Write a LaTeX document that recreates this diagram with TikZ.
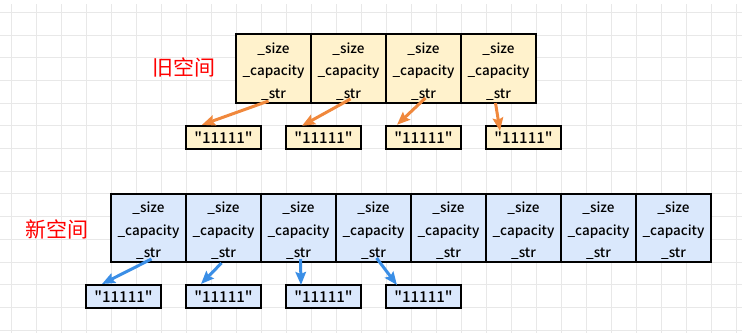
\documentclass[tikz,border=0pt]{standalone}
\usepackage{fontspec}
\setmainfont{Noto Sans CJK SC Medium}[Ligatures=TeXOff]
\newfontfamily\cjklabel{Noto Sans CJK SC}
\usetikzlibrary{arrows.meta,calc}
\definecolor{oldfill}{HTML}{FFF2CC}
\definecolor{newfill}{HTML}{DAE8FC}
\definecolor{oldarrow}{HTML}{F0883C}
\definecolor{newarrow}{HTML}{3A8EE6}
\definecolor{gridgray}{HTML}{E8E8E8}
\newcommand{\fieldtext}{\rule{0pt}{16pt}\_size\\\_capacity\\\_str}
\begin{document}
\begin{tikzpicture}[x=1pt,y=-1pt,
    gridline/.style={draw=gridgray,line width=1pt},
    cellbox/.style={draw=black,line width=2pt,minimum width=75pt,minimum height=69pt,
        inner sep=0pt,align=center,font=\fontsize{13.5}{22.5}\selectfont},
    strbox/.style={draw=black,line width=2pt,minimum width=75pt,minimum height=23pt,
        inner sep=0pt,font=\fontsize{15}{15}\selectfont},
    spacelabel/.style={text=red,font=\cjklabel\fontsize{21}{21}\selectfont},
    oldptr/.style={draw=oldarrow,line width=3pt,-{Stealth[length=13pt,width=10.5pt,inset=2pt]}},
    newptr/.style={draw=newarrow,line width=3pt,-{Stealth[length=13pt,width=10.5pt,inset=2pt]}}]
    \useasboundingbox (0,0) rectangle (742,333);
    % griglia
    \foreach \gx in {0,...,29}
        \draw[gridline] (11.7+25*\gx,4) -- ++(0,329);
    \foreach \gy in {0,...,14}
        \draw[gridline] (0,12.3+22.7*\gy) -- ++(742,0);

    % vecchio spazio
    \node[spacelabel] (oldlabel) at (184,67.5) {旧空间};
    \foreach \i in {1,...,4}{
        \node[cellbox,fill=oldfill] (old\i) at (198.5+75*\i,68.5) {\fieldtext};
        \node[strbox,fill=oldfill] (oldstr\i) at (123.5+100*\i,137.3) {"11111"};
    }
    \draw[oldptr] ($(old1.south)+(-5,-3)$) -- ($(oldstr1.north west)+(17,0)$);
    \draw[oldptr] ($(old2.south)+(2,-5)$) -- ($(oldstr2.north west)+(17,1)$);
    \draw[oldptr] ($(old3.south)+(2,-6)$) -- ($(oldstr3.north west)+(12,0)$);
    \draw[oldptr] ($(old4.south)+(-3,-1)$) -- ($(oldstr4.north west)+(15,6)$);

    % nuovo spazio
    \node[spacelabel] (newlabel) at (57,229) {新空间};
    \foreach \i in {1,...,8}{
        \node[cellbox,fill=newfill,minimum height=68pt] (new\i) at (73.5+75*\i,228) {\fieldtext};
    }
    \foreach \i in {1,...,4}{
        \node[strbox,fill=newfill] (newstr\i) at (23.5+100*\i,296.5) {"11111"};
    }
    \draw[newptr] ($(new1.south)+(3,-4)$) -- ($(newstr1.north west)+(17,0)$);
    \draw[newptr] ($(new2.south)+(-2,0)$) -- ($(newstr2.north west)+(16,0)$);
    \draw[newptr] ($(new3.south)+(2,-4)$) -- ($(newstr3.north west)+(16,1)$);
    \draw[newptr] ($(new4.south)+(3,-5)$) -- ($(newstr4.north west)+(12,1)$);
\end{tikzpicture}
\end{document}
